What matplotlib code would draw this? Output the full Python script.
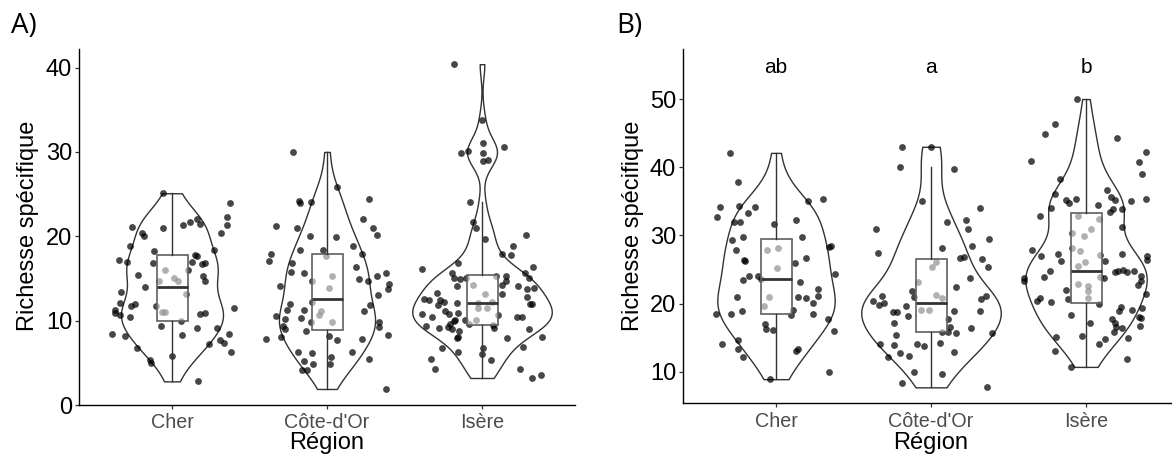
import numpy as np
import matplotlib
matplotlib.use("Agg")
import matplotlib.pyplot as plt

plt.rcParams['font.family'] = ['Liberation Sans', 'DejaVu Sans']

regions = ["Cher", "Côte-d'Or", "Isère"]

# ---------------- Panel A data ----------------
a_cher_y = [25.1,24.0,22.3,22.1,21.7,21.3,21.5,21.3,21.1,21.0, 20.4,20.0,20.4,18.9,18.4,18.2,17.8,17.7,17.2,16.9,
            16.8,17.0,16.7,16.8,16.0,16.0,15.4,15.3,14.7,14.7, 15.0,14.7,14.0,13.2,13.4,12.1,12.0,11.7,11.7,11.3,
            10.9,10.7,11.5,10.8,10.9,11.0,11.0,10.4,10.0,9.4, 9.1,9.1,8.4,8.2,8.3,8.4,7.7,7.4,7.2,6.8,
            6.3,5.3,5.0,5.8,2.8]
a_cher_dx = [-0.056,0.374,0.353,0.163,0.116,0.071,0.18,0.357,-0.26,-0.058, -0.196,-0.178,0.314,-0.271,0.273,-0.116,0.148,0.16,-0.344,-0.288,
             -0.125,0.131,0.194,0.215,-0.045,0.105,-0.217,0.202,0.211,-0.086, 0.013,0.039,-0.176,0.09,-0.331,-0.335,-0.237,-0.267,-0.103,-0.37,
             -0.366,-0.335,0.4,0.18,0.215,-0.065,-0.043,-0.269,0.056,-0.069, 0.159,0.288,-0.387,-0.303,0.065,0.366,0.31,0.335,0.241,-0.228,
             0.38,-0.142,-0.135,0.0,0.166]

a_cote_y = [30.0,25.8,24.2,24.0,24.1,24.4,22.1,21.2,21.0,21.0, 20.1,20.0,19.9,18.8,18.4,18.4,17.9,17.9,17.1,17.7,
            16.8,16.3,15.8,15.7,15.7,15.3,15.3,14.9,14.7,14.7, 14.1,14.3,13.8,13.9,13.0,12.0,12.2,11.9,11.3,11.3,
            11.2,11.1,10.7,10.5,10.3,10.2,9.8,9.8,9.8,9.2, 9.4,9.0,8.8,7.8,8.1,8.2,7.7,7.8,8.3,6.3,
            6.2,6.3,5.7,5.2,4.9,4.9,5.4,4.2,4.1,1.9]
a_cote_dx = [-0.217,0.067,-0.178,-0.174,-0.103,0.271,0.235,-0.331,-0.196,0.295, 0.323,-0.108,0.058,0.166,-0.174,-0.024,0.228,-0.361,-0.374,-0.009,
             -0.228,0.187,-0.232,-0.151,0.378,0.323,0.03,0.206,0.265,-0.099, -0.301,0.4,0.396,0.013,0.331,-0.237,-0.097,0.277,-0.26,-0.151,
             -0.039,0.241,-0.052,-0.331,-0.166,-0.273,-0.105,0.03,0.333,0.333, -0.284,-0.273,-0.133,-0.396,-0.297,0.011,0.065,0.228,0.391,-0.189,
             -0.099,0.159,0.028,-0.146,-0.092,0.022,0.269,-0.163,-0.127,0.383]

a_isere_y = [40.4,33.8,31.0,29.9,28.9,29.9,30.1,30.6,29.1,24.1, 21.7,21.0,19.7,20.1,18.8,17.9,17.8,16.8,16.1,16.4,
             15.6,15.7,15.1,14.9,15.1,15.3,15.3,15.1,14.7,14.2, 14.1,14.2,14.1,13.8,13.9,13.2,13.1,13.3,12.6,12.4,
             12.4,12.2,12.1,12.1,12.2,12.8,12.0,12.0,11.8,10.8, 10.4,11.1,10.8,10.9,11.5,11.5,10.7,10.4,10.4,10.1,
             9.9,9.6,10.1,10.1,9.6,9.4,9.1,9.2,9.0,8.8, 9.5,9.1,9.0,8.1,7.9,7.9,8.1,6.7,6.8,6.9,
             6.1,6.3,5.5,5.3,4.3,4.3,3.2,3.6]
a_isere_dx = [-0.181,0.002,0.004,0.004,0.004,-0.135,-0.088,0.142,0.041,-0.075, -0.06,-0.037,0.019,0.282,0.202,0.127,0.187,-0.153,-0.387,0.331,
              -0.191,0.275,-0.181,-0.142,-0.105,0.09,0.157,0.303,0.157,-0.06, -0.163,0.127,0.23,0.29,0.338,0.019,0.129,-0.288,-0.372,-0.344,
              -0.271,-0.245,-0.163,-0.024,0.067,0.288,0.312,0.325,-0.286,-0.387, -0.32,-0.239,-0.211,-0.157,-0.028,0.032,0.101,0.224,0.256,-0.174,
              -0.181,-0.204,-0.11,-0.037,-0.086,-0.359,-0.277,-0.221,-0.194,-0.151, 0.069,0.075,0.303,-0.157,-0.163,0.163,0.389,0.004,-0.256,0.267,
              -0.002,-0.157,-0.329,0.06,-0.303,0.243,0.32,0.381]

# ---------------- Panel B data ----------------
b_cher_y = [42.1,37.9,35.1,35.4,34.1,34.3,34.1,32.7,33.3,31.9, 31.9,31.7,32.2,29.8,29.7,29.3,28.3,28.4,27.9,28.1,
            27.9,26.7,26.4,26.3,25.9,25.2,24.3,24.0,23.5,24.0, 23.6,23.2,22.2,21.1,20.9,21.0,20.8,20.1,20.9,18.9,
            19.6,18.4,18.4,19.1,18.3,18.4,17.7,17.0,16.3,16.1, 15.9,14.6,14.0,13.3,13.4,13.0,12.2,10.0,8.9]
b_cher_dx = [-0.297,-0.243,0.204,0.303,-0.361,-0.239,-0.133,-0.381,-0.183,-0.273, -0.234,-0.013,0.127,-0.212,0.168,-0.286,0.344,0.357,-0.06,0.015,
             -0.256,0.196,-0.204,-0.2,0.125,0.006,0.381,-0.176,-0.212,-0.116, -0.099,0.155,0.273,0.273,-0.249,0.14,0.194,0.239,-0.047,-0.219,
             -0.077,-0.385,-0.29,0.112,0.097,0.237,0.335,-0.073,-0.062,-0.017, 0.372,-0.245,-0.351,-0.247,0.142,0.127,-0.213,0.34,-0.037]

b_cote_y = [43.0,43.0,40.0,39.7,35.1,34.0,31.9,32.3,31.0,30.9, 29.4,28.4,28.1,27.4,26.7,26.8,26.5,26.1,25.4,25.3,
            23.7,23.2,22.4,21.8,21.0,21.2,20.8,21.1,20.4,20.1, 19.8,21.1,20.7,19.7,19.1,19.1,18.8,18.8,18.9,18.9,
            18.2,17.8,17.2,16.5,16.4,15.8,15.8,15.7,15.4,15.7, 14.0,13.9,14.1,13.8,14.2,12.7,12.3,12.1,12.9,9.9,
            9.7,8.3,7.7]
b_cote_dx = [-0.189,0.002,-0.198,0.148,-0.058,0.316,0.101,0.226,-0.353,0.237, 0.376,0.267,0.073,-0.344,0.189,0.211,0.327,0.034,0.37,0.006,
             0.252,-0.082,0.161,-0.12,-0.112,0.034,0.069,-0.318,-0.374,-0.301, -0.337,0.357,0.323,-0.159,-0.067,-0.011,-0.222,-0.245,0.148,0.318,
             -0.15,0.112,-0.241,0.125,0.256,0.073,0.108,0.159,-0.228,0.391, -0.331,-0.241,-0.09,-0.047,0.056,-0.2,-0.144,-0.275,0.151,-0.112,
             0.073,-0.189,0.361]

b_isere_y = [50.0,46.4,44.8,44.3,42.2,40.8,40.9,39.0,38.3,36.7, 36.1,35.7,35.2,35.3,35.2,34.7,35.3,35.1,34.0,34.4,
             33.9,33.4,33.9,32.9,32.9,32.4,31.0,31.3,30.3,29.9, 28.1,27.7,27.9,27.0,27.2,26.3,27.1,26.3,27.3,26.9,
             26.4,26.1,25.5,24.8,23.9,23.7,23.3,24.6,24.8,24.9, 24.6,24.8,23.7,23.9,24.0,23.3,22.7,22.9,22.5,21.8,
             20.8,22.0,20.8,20.4,20.2,20.7,20.0,21.4,19.5,18.9, 19.1,19.3,18.3,18.0,17.9,17.8,17.1,17.1,16.5,16.7,
             16.4,15.8,15.3,15.1,15.0,14.8,14.0,13.1,11.9,10.7]
b_isere_dx = [-0.056,-0.198,-0.267,0.198,0.385,0.344,-0.357,0.359,-0.166,0.138, -0.2,0.163,0.187,0.389,-0.131,-0.11,-0.067,0.288,-0.226,0.077,
              0.176,0.157,0.234,-0.299,-0.054,0.086,0.03,0.234,-0.09,-0.015, -0.09,-0.041,-0.351,-0.288,-0.183,-0.161,0.092,0.123,0.232,0.394,
              0.396,-0.004,-0.052,-0.234,-0.273,-0.4,-0.398,0.187,0.206,0.239, 0.262,0.308,0.118,0.088,0.357,0.355,0.333,-0.052,0.015,0.015,
              0.011,-0.131,-0.295,-0.318,-0.224,-0.116,0.082,0.385,0.224,0.215, 0.297,0.364,-0.099,0.342,0.355,0.17,0.187,0.028,0.194,0.348,
              0.234,0.181,-0.028,-0.191,0.271,0.123,0.084,-0.198,0.267,-0.099]

b_letters = ["ab", "a", "b"]
b_letter_y = 54.7

yticks_a = [0, 10, 20, 30, 40]
yticks_b = [10, 20, 30, 40, 50]

# ---------------- helpers ----------------
def kde_nrd0(vals, grid):
    vals = np.asarray(vals)
    n = len(vals)
    sd = np.std(vals, ddof=1)
    q75, q25 = np.percentile(vals, [75, 25])
    bw = 0.9 * min(sd, (q75 - q25) / 1.34) * n ** (-0.2)
    z = (grid[:, None] - vals[None, :]) / bw
    return np.exp(-0.5 * z ** 2).sum(1) / (n * bw * np.sqrt(2 * np.pi))

LINE = "#333333"

def draw_panel(ax, groups):
    dens = []
    for ys, dxs in groups:
        ys = np.asarray(ys)
        g = np.linspace(ys.min(), ys.max(), 512)
        dens.append((g, kde_nrd0(ys, g)))
    dmax = max(d.max() for _, d in dens)
    for i, ((ys, dxs), (g, d)) in enumerate(zip(groups, dens)):
        pos = i + 1
        ys = np.asarray(ys); dxs = np.asarray(dxs)
        w = 0.45 * d / dmax
        ax.fill_betweenx(g, pos - w, pos + w, facecolor="white", edgecolor=LINE,
                         linewidth=1.0, zorder=1)
        ax.scatter(pos + dxs, ys, s=24, color="black", alpha=0.72, linewidths=0, zorder=2)
        bp = ax.boxplot([ys], positions=[pos], widths=0.2, whis=1.5, showfliers=False,
                        patch_artist=True, showcaps=False, zorder=3)
        for b in bp['boxes']:
            b.set_facecolor((1, 1, 1, 0.58))
            b.set_edgecolor("#5f5f5f")
            b.set_linewidth(1.2)
        for wl in bp['whiskers']:
            wl.set_color(LINE); wl.set_linewidth(1.0)
        for m in bp['medians']:
            m.set_color("#333333"); m.set_linewidth(2.0)

def style(ax, yticks, ylim):
    ax.set_xlim(0.4, 3.6)
    ax.set_ylim(*ylim)
    ax.set_xticks([1, 2, 3])
    ax.set_xticklabels(regions, fontsize=14.2, color="#4d4d4d")
    ax.set_yticks(yticks)
    ax.set_yticklabels([str(t) for t in yticks], fontsize=17, color="black")
    for s in ["top", "right"]:
        ax.spines[s].set_visible(False)
    for s in ["left", "bottom"]:
        ax.spines[s].set_linewidth(1.0)
        ax.spines[s].set_color("black")
    ax.tick_params(axis="both", length=3, width=0.9, color="#333333")
    ax.tick_params(axis="x", pad=3)
    ax.tick_params(axis="y", pad=2)

W, H = 1172, 454
fig = plt.figure(figsize=(W / 100, H / 100), dpi=100)

axA = fig.add_axes([79 / W, (H - 405) / H, (575 - 79) / W, (405 - 49) / H])
draw_panel(axA, [(a_cher_y, a_cher_dx), (a_cote_y, a_cote_dx), (a_isere_y, a_isere_dx)])
style(axA, yticks_a, (0, 42.2))

axB = fig.add_axes([683 / W, (H - 403.3) / H, (1179 - 683) / W, (403.3 - 49.3) / H])
draw_panel(axB, [(b_cher_y, b_cher_dx), (b_cote_y, b_cote_dx), (b_isere_y, b_isere_dx)])
style(axB, yticks_b, (5.36, 57.3))
for i, lab in enumerate(b_letters):
    axB.text(i + 1, b_letter_y, lab, ha="center", va="center", fontsize=15, color="black")

for cx in (28, 633):
    fig.text(cx / W, 1 - 226 / H, "Richesse spécifique", rotation=90, ha="center", va="center",
             fontsize=17, color="black")
for cx in (327, 931):
    fig.text(cx / W, 1 - 443 / H, "Région", ha="center", va="center", fontsize=17, color="black")

fig.text(11 / W, 1 - 33 / H, "A)", ha="left", va="baseline", fontsize=20,
         family=["Open Sans", "DejaVu Sans"])
fig.text(616 / W, 1 - 33 / H, "B)", ha="left", va="baseline", fontsize=20,
         family=["Open Sans", "DejaVu Sans"])

fig.savefig("out.png", dpi=100)
